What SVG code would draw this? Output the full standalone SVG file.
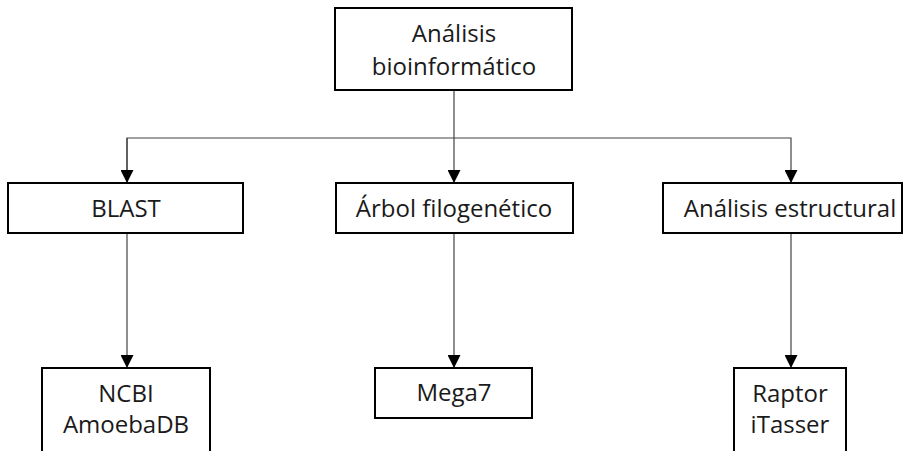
<svg xmlns="http://www.w3.org/2000/svg" width="904" height="451" viewBox="0 0 904 451">
<defs>
<style>
.box{fill:#fff;stroke:#000;stroke-width:2}
.lbl{font-family:"Open Sans","Noto Sans","DejaVu Sans",sans-serif;font-size:24px;fill:#1a1a1a;text-anchor:middle}
.con{fill:none;stroke:#444;stroke-width:1.2}
</style>
<marker id="arr" viewBox="0 0 12 12" refX="12" refY="6" markerWidth="13" markerHeight="13" markerUnits="userSpaceOnUse" orient="auto">
<path d="M0,0 L12,6 L0,12 Z" fill="#000"/>
</marker>
</defs>
<rect width="904" height="451" fill="#fff"/>
<g id="connectors">
<line class="con" x1="454" y1="90" x2="454" y2="183" marker-end="url(#arr)"/>
<polyline class="con" points="127,183 127,138 791,138 791,183" marker-end="url(#arr)"/>
<line class="con" x1="127" y1="138" x2="127" y2="183" marker-end="url(#arr)"/>
<line class="con" x1="127" y1="233" x2="127" y2="368" marker-end="url(#arr)"/>
<line class="con" x1="454" y1="233" x2="454" y2="368" marker-end="url(#arr)"/>
<line class="con" x1="791" y1="233" x2="791" y2="368" marker-end="url(#arr)"/>
</g>
<g id="n-root">
<rect class="box" x="335" y="8" width="237" height="82"/>
<text class="lbl" x="454" y="42">Análisis</text>
<text class="lbl" x="454" y="75">bioinformático</text>
</g>
<g id="n-blast">
<rect class="box" x="8" y="183" width="235" height="50"/>
<text class="lbl" x="126" y="217">BLAST</text>
</g>
<g id="n-arbol">
<rect class="box" x="336" y="183" width="237" height="50"/>
<text class="lbl" x="454" y="217">Árbol filogenético</text>
</g>
<g id="n-estructural">
<rect class="box" x="663" y="183" width="239" height="50"/>
<text class="lbl" x="790" y="217">Análisis estructural</text>
</g>
<g id="n-ncbi">
<rect class="box" x="42" y="368" width="168" height="100"/>
<text class="lbl" x="126" y="402">NCBI</text>
<text class="lbl" x="126" y="433">AmoebaDB</text>
</g>
<g id="n-mega">
<rect class="box" x="375" y="368" width="157" height="50"/>
<text class="lbl" x="454" y="401">Mega7</text>
</g>
<g id="n-raptor">
<rect class="box" x="734" y="368" width="112" height="100"/>
<text class="lbl" x="790" y="402">Raptor</text>
<text class="lbl" x="790" y="433">iTasser</text>
</g>
</svg>
